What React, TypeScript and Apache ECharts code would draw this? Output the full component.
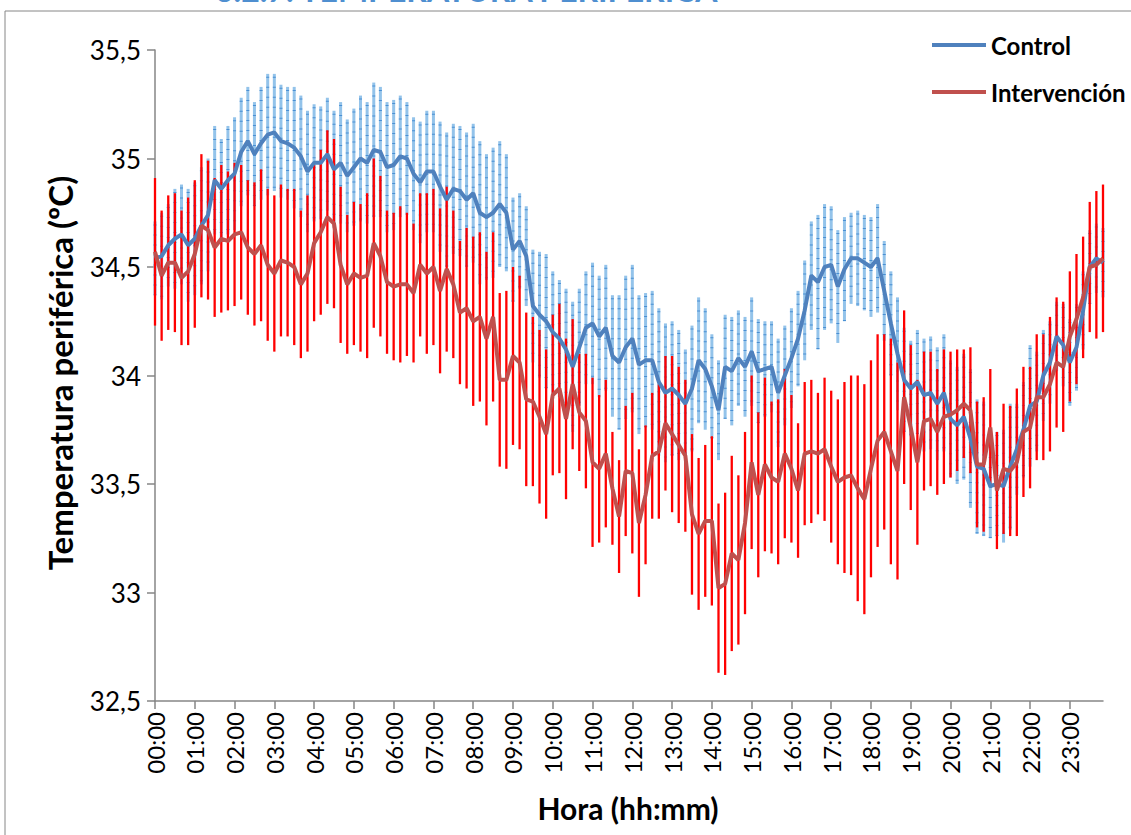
import React, { useEffect, useRef } from "react";
import * as echarts from "echarts";

// 10-minute time categories 00:00 .. 23:50
const categories: string[] = [];
for (let h = 0; h < 24; h++) {
  for (let m = 0; m < 60; m += 10) {
    categories.push(`${String(h).padStart(2, "0")}:${String(m).padStart(2, "0")}`);
  }
}

const yTicks = [32.5, 33, 33.5, 34, 34.5, 35, 35.5];

const controlMean = [
  34.54, 34.55, 34.6, 34.63, 34.65, 34.6, 34.63, 34.69, 34.74, 34.9, 34.86, 34.9, 34.93, 35.03, 35.08, 35.02, 35.07, 35.11, 35.12, 35.08, 35.07, 35.05, 35.01, 34.94, 34.98, 34.98, 35.02, 34.95, 34.98,
  34.92, 34.96, 35.0, 34.98, 35.04, 35.03, 34.96, 34.97, 35.01, 35.0, 34.93, 34.89, 34.94, 34.94, 34.87, 34.81, 34.86, 34.85, 34.81, 34.84, 34.75, 34.73, 34.75, 34.79, 34.75, 34.58, 34.62, 34.55,
  34.32, 34.28, 34.25, 34.2, 34.17, 34.12, 34.04, 34.13, 34.22, 34.24, 34.18, 34.22, 34.09, 34.06, 34.13, 34.17, 34.05, 34.07, 34.07, 33.97, 33.92, 33.94, 33.91, 33.87, 33.94, 34.07, 34.03, 33.95, 33.84,
  34.04, 34.02, 34.08, 34.04, 34.11, 34.02, 34.03, 34.04, 33.92, 34.0, 34.08, 34.17, 34.3, 34.46, 34.43, 34.5, 34.51, 34.41, 34.49, 34.54, 34.54, 34.52, 34.5, 34.54, 34.39, 34.24, 34.1, 33.98,
  33.94, 33.97, 33.91, 33.92, 33.87, 33.92, 33.8, 33.77, 33.81, 33.71, 33.58, 33.57, 33.49, 33.5, 33.49, 33.58, 33.66, 33.75, 33.86, 33.88, 34.0, 34.06, 34.18, 34.14, 34.06, 34.13, 34.3, 34.5, 34.54, 34.52,
];

const controlErr = [
  0.17, 0.2, 0.19, 0.23, 0.23, 0.26, 0.26, 0.27, 0.26, 0.25, 0.23, 0.25, 0.26, 0.25, 0.25, 0.24, 0.26, 0.28, 0.27, 0.26, 0.26, 0.28, 0.28, 0.28, 0.27, 0.26, 0.26, 0.27, 0.28,
  0.26, 0.27, 0.29, 0.28, 0.31, 0.3, 0.3, 0.3, 0.28, 0.26, 0.26, 0.28, 0.28, 0.28, 0.3, 0.31, 0.3, 0.3, 0.31, 0.32, 0.33, 0.29, 0.3, 0.29, 0.27, 0.24, 0.22, 0.23,
  0.26, 0.29, 0.31, 0.28, 0.27, 0.28, 0.3, 0.27, 0.26, 0.28, 0.28, 0.29, 0.28, 0.31, 0.33, 0.34, 0.32, 0.31, 0.32, 0.34, 0.32, 0.31, 0.3, 0.25, 0.29, 0.29, 0.28, 0.24, 0.23,
  0.24, 0.25, 0.22, 0.23, 0.25, 0.24, 0.22, 0.21, 0.25, 0.23, 0.23, 0.22, 0.23, 0.25, 0.31, 0.29, 0.27, 0.26, 0.24, 0.21, 0.22, 0.22, 0.23, 0.25, 0.23, 0.24, 0.26, 0.24,
  0.22, 0.24, 0.26, 0.26, 0.26, 0.27, 0.27, 0.27, 0.29, 0.32, 0.31, 0.31, 0.24, 0.24, 0.26, 0.29, 0.21, 0.22, 0.28, 0.23, 0.21, 0.19, 0.16, 0.19, 0.2, 0.2, 0.18, 0.17, 0.16, 0.16,
];

const intervMean = [
  34.57, 34.46, 34.52, 34.52, 34.45, 34.48, 34.56, 34.69, 34.67, 34.59, 34.63, 34.62, 34.65, 34.66, 34.59, 34.56, 34.6, 34.51, 34.47, 34.53, 34.52, 34.5, 34.42, 34.47, 34.61, 34.66, 34.73, 34.7, 34.51,
  34.42, 34.47, 34.45, 34.46, 34.61, 34.55, 34.43, 34.41, 34.42, 34.42, 34.38, 34.51, 34.47, 34.5, 34.39, 34.49, 34.42, 34.29, 34.31, 34.25, 34.27, 34.17, 34.27, 33.98, 33.98, 34.09, 34.06, 33.89,
  33.88, 33.81, 33.73, 33.91, 33.94, 33.8, 33.96, 33.83, 33.79, 33.6, 33.57, 33.64, 33.48, 33.35, 33.56, 33.55, 33.32, 33.45, 33.63, 33.65, 33.78, 33.73, 33.68, 33.63, 33.36, 33.27, 33.33, 33.33, 33.02,
  33.04, 33.18, 33.15, 33.32, 33.6, 33.45, 33.59, 33.53, 33.51, 33.64, 33.57, 33.47, 33.64, 33.65, 33.64, 33.66, 33.58, 33.51, 33.53, 33.54, 33.48, 33.43, 33.57, 33.7, 33.74, 33.65, 33.56, 33.9,
  33.76, 33.6, 33.79, 33.8, 33.74, 33.81, 33.82, 33.84, 33.87, 33.84, 33.59, 33.59, 33.76, 33.47, 33.57, 33.56, 33.6, 33.74, 33.76, 33.9, 33.9, 33.96, 34.06, 34.04, 34.18, 34.26, 34.36, 34.5, 34.51, 34.54,
];

const intervErr = [
  0.34, 0.3, 0.31, 0.32, 0.31, 0.34, 0.34, 0.33, 0.32, 0.32, 0.34, 0.32, 0.33, 0.31, 0.31, 0.33, 0.35, 0.35, 0.36, 0.35, 0.34, 0.36, 0.34, 0.36, 0.36, 0.38, 0.4, 0.39, 0.36,
  0.32, 0.33, 0.34, 0.38, 0.39, 0.37, 0.33, 0.34, 0.36, 0.33, 0.32, 0.33, 0.37, 0.36, 0.38, 0.38, 0.34, 0.33, 0.37, 0.39, 0.39, 0.4, 0.39, 0.4, 0.41, 0.41, 0.4, 0.4,
  0.39, 0.4, 0.39, 0.37, 0.39, 0.37, 0.3, 0.27, 0.31, 0.39, 0.34, 0.34, 0.26, 0.26, 0.3, 0.37, 0.34, 0.32, 0.29, 0.31, 0.31, 0.36, 0.36, 0.35, 0.37, 0.35, 0.35, 0.39, 0.39,
  0.42, 0.45, 0.39, 0.42, 0.4, 0.38, 0.4, 0.35, 0.38, 0.39, 0.34, 0.31, 0.33, 0.33, 0.28, 0.33, 0.35, 0.38, 0.44, 0.46, 0.52, 0.53, 0.5, 0.49, 0.45, 0.52, 0.5, 0.4,
  0.38, 0.38, 0.32, 0.31, 0.29, 0.31, 0.29, 0.28, 0.25, 0.29, 0.29, 0.31, 0.27, 0.27, 0.3, 0.3, 0.34, 0.3, 0.28, 0.29, 0.29, 0.31, 0.3, 0.3, 0.3, 0.3, 0.28, 0.3, 0.34, 0.34,
];

const FONT = "Lato, 'Open Sans', sans-serif";
const AXIS_GREY = "#868686";

function errData(mean: number[], err: number[]) {
  return mean.map((m, i) => [i, +(m - err[i]).toFixed(3), +(m + err[i]).toFixed(3)]);
}

export default function App() {
  const ref = useRef<HTMLDivElement>(null);

  useEffect(() => {
    document.body.style.margin = "0";
    if (!ref.current) return;
    const chart = echarts.init(ref.current, undefined, { renderer: "svg" });

    const controlBars = (params: any, api: any) => {
      const top = api.coord([api.value(0), api.value(2)]);
      const bot = api.coord([api.value(0), api.value(1)]);
      return {
        type: "group",
        children: [
          {
            type: "line",
            shape: { x1: top[0], y1: top[1], x2: bot[0], y2: bot[1] },
            style: { stroke: "#93c3ea", lineWidth: 3 },
          },
          {
            type: "line",
            shape: { x1: top[0], y1: top[1] + 3, x2: bot[0], y2: bot[1] },
            style: { stroke: "#4a90d4", lineWidth: 3, lineDash: [1, 9] },
          },
        ],
      };
    };

    const redBars = (params: any, api: any) => {
      const top = api.coord([api.value(0), api.value(2)]);
      const bot = api.coord([api.value(0), api.value(1)]);
      return {
        type: "line",
        shape: { x1: top[0], y1: top[1], x2: bot[0], y2: bot[1] },
        style: { stroke: "#ff0000", lineWidth: 2.3 },
      };
    };

    chart.setOption({
      animation: false,
      backgroundColor: "#ffffff",
      grid: { left: 155, top: 50, width: 948, height: 651, containLabel: false },
      legend: {
        data: [
          { name: "Control", icon: "rect" },
          { name: "Intervención", icon: "rect" },
        ],
        orient: "vertical",
        left: 927,
        top: 28,
        itemWidth: 54,
        itemHeight: 4,
        itemGap: 23,
        textStyle: { fontFamily: FONT, fontWeight: "bold", fontSize: 24, color: "#000" },
      },
      xAxis: {
        type: "category",
        data: categories,
        boundaryGap: false,
        axisLine: { lineStyle: { color: AXIS_GREY, width: 1.5 } },
        axisTick: { interval: 5, length: 8, lineStyle: { color: AXIS_GREY, width: 1.5 } },
        axisLabel: {
          interval: 5,
          rotate: 90,
          margin: 11,
          fontFamily: FONT,
          fontSize: 24,
          color: "#000",
        },
        splitLine: { show: false },
      },
      yAxis: {
        type: "value",
        min: yTicks[0],
        max: yTicks[yTicks.length - 1],
        interval: 0.5,
        axisLine: { show: true, lineStyle: { color: AXIS_GREY, width: 1.5 } },
        axisTick: { show: true, length: 8, lineStyle: { color: AXIS_GREY, width: 1.5 } },
        axisLabel: {
          margin: 14,
          fontFamily: FONT,
          fontSize: 26,
          color: "#000",
          formatter: (v: number) => String(v).replace(".", ","),
        },
        splitLine: { show: false },
      },
      series: [
        {
          name: "Control EE",
          type: "custom",
          renderItem: controlBars,
          data: errData(controlMean, controlErr),
          encode: { x: 0, y: [1, 2] },
          z: 1,
          silent: true,
        },
        {
          name: "Intervención EE",
          type: "custom",
          renderItem: redBars,
          data: errData(intervMean, intervErr),
          encode: { x: 0, y: [1, 2] },
          z: 2,
          silent: true,
        },
        {
          name: "Control",
          type: "line",
          data: controlMean,
          symbol: "none",
          color: "#4f81bd",
          lineStyle: { color: "#4f81bd", width: 4 },
          z: 3,
        },
        {
          name: "Intervención",
          type: "line",
          data: intervMean,
          symbol: "none",
          color: "#c0504d",
          lineStyle: { color: "#c0504d", width: 4 },
          z: 4,
        },
      ],
      graphic: [
        {
          type: "rect",
          shape: { x: 5, y: 11, width: 1200, height: 900 },
          style: { fill: "none", stroke: AXIS_GREY, lineWidth: 1 },
          silent: true,
          z: -10,
        },
        {
          type: "text",
          x: 215,
          y: 5,
          style: {
            text: "6.2.7. TEMPERATURA PERIFÉRICA",
            fontFamily: FONT,
            fontWeight: "bold",
            fontSize: 32,
            fill: "#4f8fd0",
            verticalAlign: "bottom",
          },
        },
        {
          type: "text",
          x: 60,
          y: 373,
          rotation: Math.PI / 2,
          style: {
            text: "Temperatura periférica (ºC)",
            fontFamily: FONT,
            fontWeight: "bold",
            fontSize: 33,
            fill: "#000",
            align: "center",
            verticalAlign: "middle",
          },
        },
        {
          type: "text",
          x: 628,
          y: 808,
          style: {
            text: "Hora (hh:mm)",
            fontFamily: FONT,
            fontWeight: "bold",
            fontSize: 30,
            fill: "#000",
            align: "center",
            verticalAlign: "middle",
          },
        },
      ],
    });

    return () => chart.dispose();
  }, []);

  return <div ref={ref} style={{ width: 1131, height: 835 }} />;
}
